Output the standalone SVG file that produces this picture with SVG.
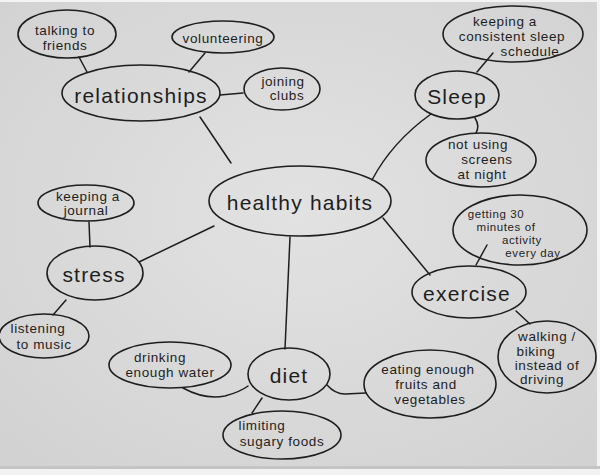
<svg xmlns="http://www.w3.org/2000/svg" width="600" height="475" viewBox="0 0 600 475">
<defs>
<radialGradient id="paper" cx="50%" cy="45%" r="70%">
<stop offset="0" stop-color="#e2e2e2"/>
<stop offset="1" stop-color="#d2d2d2"/>
</radialGradient>
</defs>
<style>
.n ellipse{fill:none;stroke:#1e1e1e;stroke-width:1.6}
.t{font-family:"Liberation Sans","DejaVu Sans",sans-serif;font-size:13.5px;fill:#1e1e1e;text-anchor:middle;letter-spacing:0.6px}
.s{font-size:11.5px}
.m{font-family:"Liberation Sans","DejaVu Sans",sans-serif;font-size:21px;fill:#1e1e1e;text-anchor:middle;letter-spacing:1.2px}
#connectors path,#connectors line{fill:none;stroke:#1e1e1e;stroke-width:1.5;stroke-linecap:round}
</style>
<rect width="600" height="475" fill="url(#paper)"/>
<rect x="0" y="0" width="600" height="2" fill="#f4f4f4"/>
<rect x="597" y="0" width="3" height="475" fill="#f4f4f4"/>
<rect x="0" y="469" width="600" height="6" fill="#f2f2f2"/>
<rect x="0" y="466" width="600" height="3" fill="#c4c4c4"/>

<g id="connectors">
<line x1="79" y1="57" x2="87" y2="72"/>
<line x1="205" y1="53" x2="189" y2="72"/>
<line x1="220" y1="95" x2="243" y2="93"/>
<line x1="200" y1="117" x2="231" y2="163"/>
<line x1="493" y1="53" x2="477" y2="72"/>
<path d="M475 118 Q480 126 476 133"/>
<path d="M431 114 Q392 142 372 180"/>
<line x1="89" y1="222" x2="90" y2="247"/>
<line x1="139" y1="262" x2="214" y2="226"/>
<line x1="66" y1="300" x2="53" y2="315"/>
<line x1="290" y1="237" x2="285" y2="349"/>
<path d="M183 388 Q205 400 225 396 Q240 392 248 386"/>
<line x1="262" y1="398" x2="252" y2="413"/>
<path d="M327 385 Q335 394 345 394 L366 393"/>
<line x1="383" y1="218" x2="430" y2="275"/>
<line x1="476" y1="265" x2="487" y2="245"/>
<line x1="516" y1="311" x2="530" y2="324"/>
</g>

<g id="healthy-habits" class="n"><ellipse cx="300" cy="201" rx="91" ry="35"/><text class="m" x="300" y="210">healthy habits</text></g>

<g id="relationships" class="n"><ellipse cx="141" cy="93" rx="79" ry="28"/><text class="m" x="141" y="103">relationships</text></g>
<g id="talking-to-friends" class="n"><ellipse cx="67" cy="34" rx="49" ry="24"/><text class="t" x="65" y="35">talking to</text><text class="t" x="65" y="50">friends</text></g>
<g id="volunteering" class="n"><ellipse cx="223" cy="37" rx="51" ry="16"/><text class="t" x="223" y="43">volunteering</text></g>
<g id="joining-clubs" class="n"><ellipse cx="282" cy="89" rx="38" ry="21"/><text class="t" x="283" y="86">joining</text><text class="t" x="287" y="100">clubs</text></g>

<g id="sleep" class="n"><ellipse cx="457" cy="95" rx="42" ry="24"/><text class="m" x="457" y="104">Sleep</text></g>
<g id="keeping-schedule" class="n"><ellipse cx="513" cy="34" rx="70" ry="28"/><text class="t" x="505" y="26">keeping a</text><text class="t" x="512" y="41">consistent sleep</text><text class="t" x="530" y="56">schedule</text></g>
<g id="not-using-screens" class="n"><ellipse cx="481" cy="160" rx="55" ry="27"/><text class="t" x="478" y="149">not using</text><text class="t" x="487" y="164">screens</text><text class="t" x="482" y="179">at night</text></g>

<g id="stress" class="n"><ellipse cx="95" cy="273" rx="48" ry="27"/><text class="m" x="94" y="282">stress</text></g>
<g id="keeping-journal" class="n"><ellipse cx="86" cy="203" rx="48" ry="18"/><text class="t" x="88" y="201">keeping a</text><text class="t" x="86" y="215">journal</text></g>
<g id="listening-to-music" class="n"><ellipse cx="44" cy="336" rx="45" ry="22"/><text class="t" x="38" y="333">listening</text><text class="t" x="44" y="349">to music</text></g>

<g id="diet" class="n"><ellipse cx="289" cy="374" rx="41" ry="26"/><text class="m" x="289" y="383">diet</text></g>
<g id="drinking-water" class="n"><ellipse cx="170" cy="365" rx="61" ry="23"/><text class="t" x="160" y="362">drinking</text><text class="t" x="170" y="377">enough water</text></g>
<g id="limiting-sugary" class="n"><ellipse cx="282" cy="435" rx="59" ry="24"/><text class="t" x="262" y="430">limiting</text><text class="t" x="282" y="446">sugary foods</text></g>
<g id="eating-fruits" class="n"><ellipse cx="430" cy="384" rx="66" ry="34"/><text class="t" x="428" y="374">eating enough</text><text class="t" x="426" y="389">fruits and</text><text class="t" x="430" y="404">vegetables</text></g>

<g id="exercise" class="n"><ellipse cx="469" cy="292" rx="57" ry="26"/><text class="m" x="467" y="301">exercise</text></g>
<g id="getting-30" class="n"><ellipse cx="520" cy="230" rx="67" ry="35"/><text class="t s" x="496" y="218">getting 30</text><text class="t s" x="506" y="231">minutes of</text><text class="t s" x="522" y="244">activity</text><text class="t s" x="533" y="257">every day</text></g>
<g id="walking-biking" class="n"><ellipse cx="547" cy="357" rx="49" ry="36"/><text class="t" x="547" y="341">walking /</text><text class="t" x="536" y="356">biking</text><text class="t" x="547" y="370">instead of</text><text class="t" x="542" y="384">driving</text></g>
</svg>
